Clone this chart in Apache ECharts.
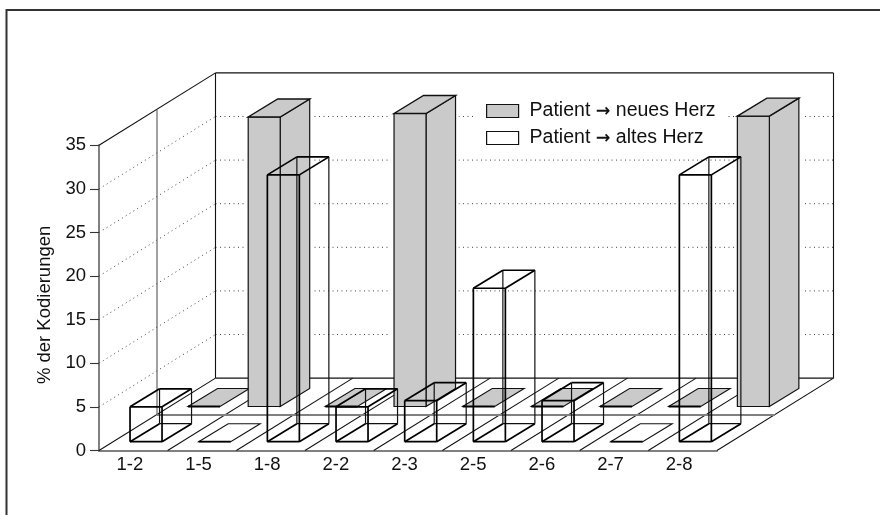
<!DOCTYPE html>
<html>
<head>
<meta charset="utf-8">
<style>html,body{margin:0;padding:0;background:#fff}#c{width:880px;height:515px}</style>
<script src="https://cdn.jsdelivr.net/npm/echarts@6/dist/echarts.min.js"></script>
</head>
<body>
<div id="c"></div>
<script>
const categories = ['1-2','1-5','1-8','2-2','2-3','2-5','2-6','2-7','2-8'];
const neuesHerz = [0, 33.2, 0, 33.6, 0, 0, 0, 0, 33.3];
const altesHerz = [4.0, 0, 30.6, 4.0, 4.7, 17.6, 4.7, 0, 30.6];
const yTicks = [5, 10, 15, 20, 25, 30];
const yMax = 35;
const nameNeu = 'Patient \u2192 neues Herz';
const nameAlt = 'Patient \u2192 altes Herz';

// Pseudo-3D layout (pixels)
const DEPTH = {x: 116.5, y: -72.4};   // full floor depth
const MID = {x: 58, y: -35.4};        // mid-floor divider
const ROW_FRONT = {x: -3.3, y: -8.8}; // front row base, relative to the axis
const ROW_BACK = {x: 54.7, y: -44};   // back row base, relative to the axis
const BAR = {w: 32, dx: 29.5, dy: -18};
const backNudge = {1: -8.5};          // the source draws this bar off its slot

const chart = echarts.init(document.getElementById('c'), null, {renderer: 'canvas'});

function line(x1, y1, x2, y2, style) {
  return {type: 'line', shape: {x1, y1, x2, y2}, style: Object.assign({fill: null}, style), silent: true};
}
function poly(points, style) {
  return {type: 'polygon', shape: {points}, style, silent: true};
}

function renderWalls(params, api) {
  const band = api.size([1, 0])[0];
  const x0 = api.coord([0, 0])[0] - band / 2;
  const y0 = api.coord([0, 0])[1];
  const yTop = api.coord([0, yMax])[1];
  const x1 = x0 + band * categories.length;
  const thin = {stroke: '#111', lineWidth: 1.1};
  const mid = {stroke: '#808080', lineWidth: 2};
  const dot = {stroke: '#444', lineWidth: 1, lineDash: [1, 3.5]};
  const kids = [];
  // dotted value lines on the two walls
  yTicks.forEach(v => {
    const y = api.coord([0, v])[1];
    kids.push(line(x0, y, x0 + DEPTH.x, y + DEPTH.y, dot));
    kids.push(line(x0 + DEPTH.x, y + DEPTH.y, x1 + DEPTH.x, y + DEPTH.y, dot));
  });
  // floor stripes
  for (let i = 0; i <= categories.length; i++) {
    const x = x0 + band * i;
    kids.push(line(x, y0, x + DEPTH.x, y0 + DEPTH.y, thin));
  }
  // wall outline
  kids.push(line(x0, yTop, x0 + DEPTH.x, yTop + DEPTH.y, thin));
  kids.push(line(x0 + DEPTH.x, yTop + DEPTH.y, x1 + DEPTH.x, yTop + DEPTH.y, thin));
  kids.push(line(x1 + DEPTH.x, yTop + DEPTH.y, x1 + DEPTH.x, y0 + DEPTH.y, thin));
  kids.push(line(x0 + DEPTH.x, yTop + DEPTH.y, x0 + DEPTH.x, y0 + DEPTH.y, thin));
  kids.push(line(x0 + DEPTH.x, y0 + DEPTH.y, x1 + DEPTH.x, y0 + DEPTH.y, thin));
  // mid-depth divider
  kids.push(line(x0 + MID.x, yTop + MID.y, x0 + MID.x, y0 + MID.y, {stroke: '#555', lineWidth: 1.1}));
  kids.push(line(x0 + MID.x, y0 + MID.y, x1 + MID.x, y0 + MID.y, mid));
  return {type: 'group', children: kids};
}

function renderBack(params, api) {
  const i = api.value(0), v = api.value(1);
  const base = api.coord([i, 0]), top = api.coord([i, v]);
  const x = base[0] + ROW_BACK.x + (backNudge[i] || 0);
  const yB = base[1] + ROW_BACK.y;
  const yT = top[1] + ROW_BACK.y;
  const {w, dx, dy} = BAR;
  const fill = '#cacaca';
  const s = {fill, stroke: '#111', lineWidth: 1.2};
  const kids = [];
  if (v > 0) {
    // clears the dotted lines beside a standing bar
    kids.push({type: 'rect', shape: {x: x - 3, y: yT + dy, width: w + dx + 6, height: base[1] + DEPTH.y - 1 - (yT + dy)},
      style: {fill: '#fff'}, silent: true});
    kids.push(poly([[x + w, yB], [x + w + dx, yB + dy], [x + w + dx, yT + dy], [x + w, yT]], s));
    kids.push(poly([[x, yB], [x + w, yB], [x + w, yT], [x, yT]], s));
  }
  kids.push(poly([[x, yT], [x + w, yT], [x + w + dx, yT + dy], [x + dx, yT + dy]], Object.assign({}, s, {lineWidth: v > 0 ? 1.4 : 1.1})));
  if (v === 0) kids.push(line(x, yB, x + w, yB, {stroke: '#000', lineWidth: 1.8}));
  return {type: 'group', children: kids};
}

function renderFront(params, api) {
  const i = api.value(0), v = api.value(1);
  const base = api.coord([i, 0]), top = api.coord([i, v]);
  const x = base[0] + ROW_FRONT.x;
  const yB = base[1] + ROW_FRONT.y;
  const yT = top[1] + ROW_FRONT.y;
  const {w, dx, dy} = BAR;
  const heavy = {stroke: '#000', lineWidth: 1.7};
  const light = {stroke: '#111', lineWidth: 1.2};
  const kids = [];
  if (v > 0) {
    kids.push(line(x + dx, yB + dy, x + w + dx, yB + dy, light));
    kids.push(line(x + dx, yB + dy, x + dx, yT + dy, light));
    kids.push(line(x + w + dx, yB + dy, x + w + dx, yT + dy, light));
    kids.push(line(x + dx, yT + dy, x + w + dx, yT + dy, heavy));
    kids.push(line(x, yT, x + dx, yT + dy, heavy));
    kids.push(line(x + w, yT, x + w + dx, yT + dy, heavy));
    kids.push(line(x, yB, x + dx, yB + dy, heavy));
    kids.push(line(x + w, yB, x + w + dx, yB + dy, heavy));
    kids.push(line(x, yB, x, yT, heavy));
    kids.push(line(x + w, yB, x + w, yT, heavy));
    kids.push(line(x, yT, x + w, yT, heavy));
    kids.push(line(x, yB, x + w, yB, heavy));
  } else {
    kids.push(poly([[x, yB], [x + w, yB], [x + w + dx, yB + dy], [x + dx, yB + dy]], {fill: '#fff', stroke: '#111', lineWidth: 1.1}));
    kids.push(line(x, yB, x + w, yB, heavy));
  }
  return {type: 'group', children: kids};
}

chart.setOption({
  animation: false,
  backgroundColor: '#fff',
  textStyle: {fontFamily: '"Liberation Sans", Arial, sans-serif'},
  grid: {left: 99, top: 145.3, width: 618, height: 305.2, containLabel: false},
  legend: {
    orient: 'vertical', left: 474, top: 101, padding: [0, 11, 0, 12], itemGap: 7,
    itemWidth: 32, itemHeight: 13, backgroundColor: '#fff', selectedMode: false, z: 20,
    formatter: n => n.replace('\u2192', '{a|\u2192}'),
    textStyle: {fontSize: 19.5, lineHeight: 14, color: '#111', padding: [0, 0, 0, 6],
      fontFamily: '"Liberation Sans", Arial, sans-serif',
      rich: {a: {fontFamily: '"DejaVu Sans", sans-serif', fontSize: 17.5, fontWeight: 'bold', lineHeight: 14, color: '#111'}}},
    data: [
      {name: nameNeu, icon: 'rect', itemStyle: {color: '#cacaca', borderColor: '#111', borderWidth: 1.2}},
      {name: nameAlt, icon: 'rect', itemStyle: {color: '#fff', borderColor: '#111', borderWidth: 1.2}}
    ]
  },
  xAxis: {
    type: 'category', data: categories, boundaryGap: true,
    axisLine: {lineStyle: {color: '#808080', width: 2}},
    axisTick: {show: false},
    axisLabel: {fontSize: 18.5, color: '#111', margin: 5, padding: [0, 7, 0, 0], interval: 0},
    splitLine: {show: false}
  },
  yAxis: {
    type: 'value', min: 0, max: yMax, interval: 5,
    name: '% der Kodierungen', nameLocation: 'middle', nameRotate: 90, nameGap: 44,
    nameTextStyle: {fontSize: 18.5, color: '#111', padding: [0, 14, 0, 0]},
    axisLine: {show: true, lineStyle: {color: '#808080', width: 2}},
    axisTick: {show: true, length: 9, lineStyle: {color: '#333', width: 1.1}},
    axisLabel: {fontSize: 18.5, color: '#111', margin: 13},
    splitLine: {show: false}
  },
  graphic: [{
    type: 'polyline', silent: true, z: 0,
    shape: {points: [[6.5, 515], [6.5, 10], [880, 10]]},
    style: {fill: null, stroke: '#333', lineWidth: 2}
  }],
  series: [
    {type: 'custom', silent: true, z: 1, clip: false, renderItem: renderWalls, data: [[0, 0]], encode: {x: 0, y: 1}},
    {type: 'custom', name: nameNeu, silent: true, z: 2, clip: false, renderItem: renderBack,
     itemStyle: {color: '#cacaca', borderColor: '#111', borderWidth: 1},
     data: neuesHerz.map((v, i) => [i, v]), encode: {x: 0, y: 1}},
    {type: 'custom', name: nameAlt, silent: true, z: 3, clip: false, renderItem: renderFront,
     itemStyle: {color: '#fff', borderColor: '#111', borderWidth: 1},
     data: altesHerz.map((v, i) => [i, v]), encode: {x: 0, y: 1}}
  ]
});
</script>
</body>
</html>
